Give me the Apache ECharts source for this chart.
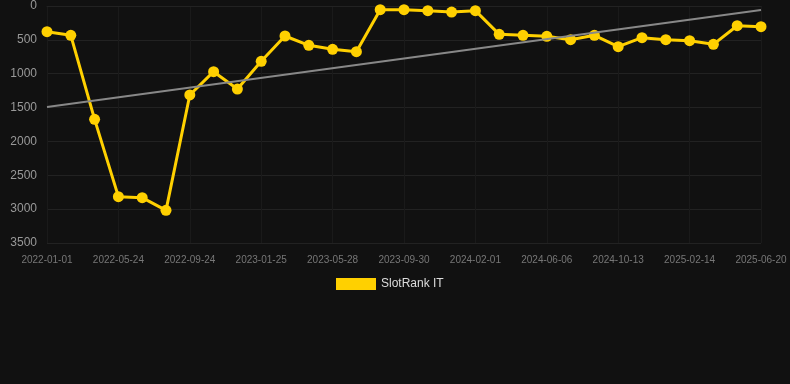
<!DOCTYPE html>
<html><head><meta charset="utf-8">
<script src="https://cdn.jsdelivr.net/npm/echarts@6/dist/echarts.min.js"></script>
<style>html,body{margin:0;padding:0;background:#111111;}#c{width:790px;height:384px;}</style>
</head><body><div id="c"></div>
<script>
const categories = [
  '2022-01-01','2022-02-17','2022-04-05','2022-05-24','2022-07-04','2022-08-14','2022-09-24','2022-11-04','2022-12-15','2023-01-25',
  '2023-03-07','2023-04-17','2023-05-28','2023-07-08','2023-08-19','2023-09-30','2023-11-10','2023-12-21','2024-02-01','2024-03-14',
  '2024-04-25','2024-06-06','2024-07-18','2024-08-31','2024-10-13','2024-11-24','2025-01-03','2025-02-14','2025-03-27','2025-05-08','2025-06-20'
];
const rankValues = [379,433,1674,2816,2830,3018,1314,970,1226,817,443,581,640,675,54,54,69,89,69,419,433,448,497,433,601,468,497,512,566,291,306];
const trendStart = 1490;
const trendEnd = 60;
const yTicks = {min:0, max:3500, interval:500};

const chart = echarts.init(document.getElementById('c'));
chart.setOption({
  backgroundColor:'#111111',
  animation:false,
  grid:{left:47,right:29,top:6,bottom:141},
  legend:{
    bottom:89, left:331,
    itemWidth:40, itemHeight:12, itemGap:10,
    textStyle:{color:'#dddddd', fontSize:12, fontFamily:'Liberation Sans, Arial, sans-serif'},
    data:[{name:'SlotRank IT', icon:'rect'}]
  },
  xAxis:{
    type:'category', data:categories, boundaryGap:false,
    axisLine:{show:true, lineStyle:{color:'#222'}},
    axisTick:{show:false},
    axisLabel:{interval:2, color:'#777', fontSize:10, margin:12, fontFamily:'Liberation Sans, Arial, sans-serif'},
    splitLine:{show:true, interval:2, lineStyle:{color:'#1a1a1a'}}
  },
  yAxis:{
    type:'value', inverse:true, min:yTicks.min, max:yTicks.max, interval:yTicks.interval,
    axisLine:{show:false}, axisTick:{show:false},
    axisLabel:{color:'#999', fontSize:12, margin:10, formatter:function(v){return String(v);}, fontFamily:'Liberation Sans, Arial, sans-serif'},
    splitLine:{lineStyle:{color:'#222'}}
  },
  series:[
    {
      name:'SlotRank IT', type:'line', data:rankValues,
      color:'#FFD000',
      lineStyle:{width:3, color:'#FFD000'},
      itemStyle:{color:'#FFD000'},
      symbol:'circle', symbolSize:11, showSymbol:true,
      z:3,
      markLine:{
        silent:true, symbol:'none', label:{show:false},
        lineStyle:{color:'#888', width:2, type:'solid'},
        data:[[{coord:[0,trendStart]},{coord:[categories.length-1,trendEnd]}]]
      }
    }
  ]
});
</script></body></html>
